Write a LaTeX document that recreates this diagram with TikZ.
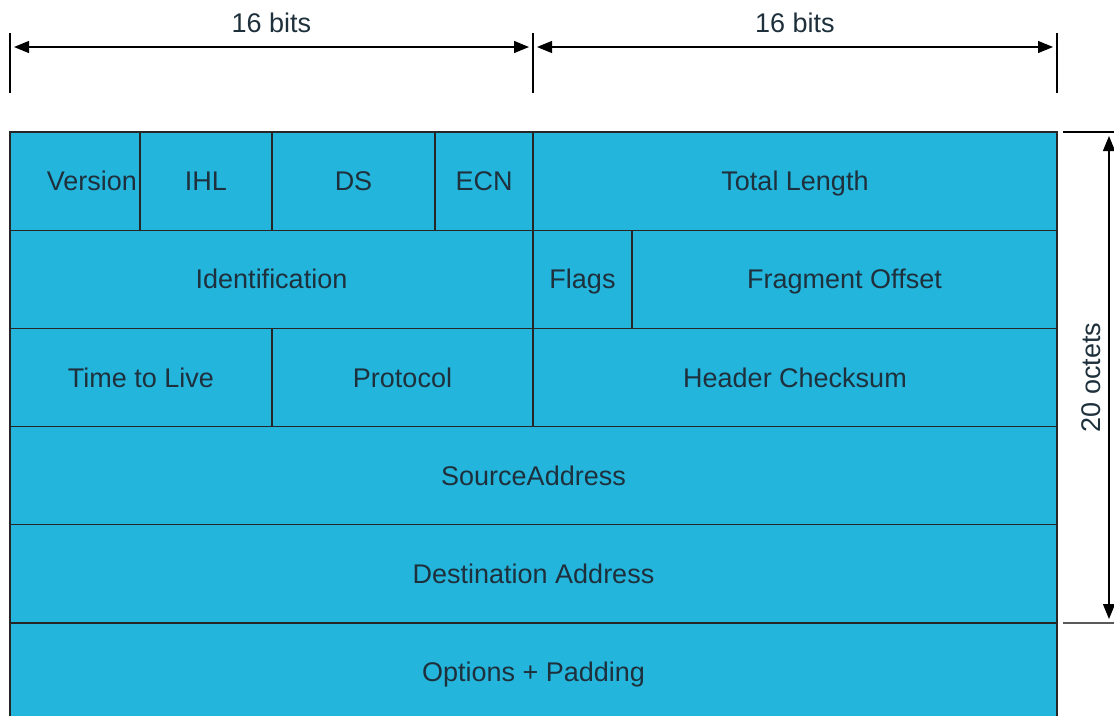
\documentclass[tikz,border=0pt]{standalone}
\usepackage{fontspec}
\setmainfont{Liberation Sans}
\usetikzlibrary{positioning,arrows.meta}

\definecolor{fieldblue}{RGB}{36,181,220}
\definecolor{inkgrey}{RGB}{30,48,60}

\begin{document}
\begin{tikzpicture}[
  x=1pt, y=-1pt,
  font=\fontsize{27}{32}\selectfont, text=inkgrey,
  field/.style={draw=black!85, fill=fieldblue, line width=1.3pt, outer sep=0pt,
    inner sep=3pt, minimum height=98.2pt, text height=20pt, text depth=0.7pt},
  dim/.style={{Triangle[length=15pt,width=12pt]}-{Triangle[length=15pt,width=12pt]},
    line width=1.2pt, shorten <=4pt, shorten >=4pt},
  tick/.style={line width=1.2pt},
  note/.style={inner sep=3pt, midway, above=11pt}
]
\useasboundingbox (0,0) rectangle (1114,715);

% header fields
\node[field, minimum width=130pt, text width=124pt, align=right, anchor=north west] (version) at (10,132) {Version};
\node[field, minimum width=132pt, right=0pt of version] (ihl) {IHL};
\node[field, minimum width=163pt, right=0pt of ihl] (ds) {DS};
\node[field, minimum width=98pt, right=0pt of ds] (ecn) {ECN};
\node[field, minimum width=524pt, right=0pt of ecn] (totlen) {Total Length};

\node[field, minimum width=523pt, below right=0pt of version.south west] (ident) {Identification};
\node[field, minimum width=99pt, right=0pt of ident] (flags) {Flags};
\node[field, minimum width=425pt, right=0pt of flags] (fragoff) {Fragment Offset};

\node[field, minimum width=262pt, below right=0pt of ident.south west] (ttl) {Time to Live};
\node[field, minimum width=261pt, right=0pt of ttl] (proto) {Protocol};
\node[field, minimum width=524pt, right=0pt of proto] (checksum) {Header Checksum};

\node[field, minimum width=1047pt, below right=0pt of ttl.south west] (srcaddr) {SourceAddress};
\node[field, minimum width=1047pt, below right=0pt of srcaddr.south west] (dstaddr) {Destination Address};
\node[field, minimum width=1047pt, below right=0pt of dstaddr.south west] (options) {Options + Padding};

% width marks
\coordinate (w0) at (10,47);
\coordinate (w1) at (533,47);
\coordinate (w2) at (1057,47);
\foreach \w in {w0,w1,w2}
  \draw[tick] ([yshift=14pt]\w) -- ([yshift=-46pt]\w);
\draw[dim] (w0) -- node[note] {16 bits} (w1);
\draw[dim] (w1) -- node[note] {16 bits} (w2);

% length mark
\coordinate (h0) at (1109,132);
\coordinate (h1) at (1109,623);
\draw[tick] ([xshift=6pt]totlen.north east) -- ([xshift=5pt]h0);
\draw[tick] ([xshift=6pt]dstaddr.south east) -- ([xshift=5pt]h1);
\draw[dim] (h0) -- node[midway, left=8pt, rotate=90, anchor=south, inner sep=0pt] (octets) {20 octets} (h1);

\end{tikzpicture}
\end{document}
